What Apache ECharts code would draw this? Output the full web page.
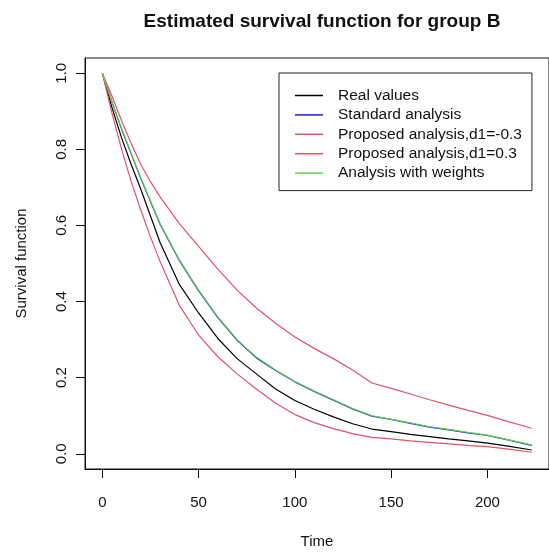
<!DOCTYPE html>
<html>
<head>
<meta charset="utf-8">
<script src="https://cdn.jsdelivr.net/npm/echarts@6/dist/echarts.min.js"></script>
<style>
html,body{margin:0;padding:0;background:#fff;}
#chart{width:549px;height:554px;}
</style>
</head>
<body>
<div id="chart"></div>
<script>
// ---- data ----
const times = [0, 5, 10, 15, 20, 25, 30, 40, 50, 60, 70, 80, 90, 100, 110, 120, 130, 140, 150, 160, 170, 180, 190, 200, 210, 223];
const realValues        = [1.0, 0.91, 0.83, 0.76, 0.695, 0.625, 0.555, 0.445, 0.37, 0.303, 0.25, 0.21, 0.17, 0.14, 0.117, 0.097, 0.079, 0.065, 0.058, 0.051, 0.045, 0.039, 0.034, 0.028, 0.021, 0.010];
const standardAnalysis  = [1.0, 0.925, 0.853, 0.788, 0.723, 0.663, 0.603, 0.508, 0.428, 0.358, 0.298, 0.252, 0.219, 0.189, 0.164, 0.141, 0.118, 0.099, 0.090, 0.080, 0.070, 0.063, 0.055, 0.048, 0.037, 0.022];
const proposedNeg03     = [1.0, 0.94, 0.875, 0.815, 0.76, 0.715, 0.675, 0.605, 0.545, 0.485, 0.43, 0.383, 0.343, 0.307, 0.277, 0.25, 0.22, 0.186, 0.172, 0.157, 0.142, 0.128, 0.114, 0.101, 0.086, 0.067];
const proposedPos03     = [1.0, 0.895, 0.80, 0.715, 0.64, 0.57, 0.505, 0.39, 0.312, 0.255, 0.21, 0.17, 0.133, 0.103, 0.082, 0.066, 0.053, 0.043, 0.039, 0.034, 0.030, 0.026, 0.022, 0.019, 0.013, 0.004];
const weightsAnalysis   = [1.0, 0.925, 0.855, 0.79, 0.725, 0.665, 0.605, 0.51, 0.43, 0.36, 0.30, 0.254, 0.22, 0.19, 0.165, 0.142, 0.119, 0.10, 0.091, 0.081, 0.071, 0.064, 0.056, 0.049, 0.038, 0.023];
const seriesNames = ['Real values', 'Standard analysis', 'Proposed analysis,d1=-0.3', 'Proposed analysis,d1=0.3', 'Analysis with weights'];
const xTicks = [0, 50, 100, 150, 200];
const yTicks = [0, 0.2, 0.4, 0.6, 0.8, 1.0];

const seriesValues = [realValues, standardAnalysis, proposedNeg03, proposedPos03, weightsAnalysis];
const colors = ['#000000', '#1f1fd0', '#DF536B', '#DF536B', '#61D04F'];
const FONT = 'Liberation Sans, Arial, Helvetica, sans-serif';

const chart = echarts.init(document.getElementById('chart'), null, {renderer: 'canvas'});
chart.setOption({
  backgroundColor: '#ffffff',
  animation: false,
  title: {
    text: 'Estimated survival function for group B',
    left: 322, top: 12, textAlign: 'center', padding: 0,
    textStyle: {fontFamily: FONT, fontSize: 19, fontWeight: 'bold', color: '#111'}
  },
  legend: {
    orient: 'vertical',
    left: 279, top: 73,
    padding: [14, 10, 9, 16],
    itemGap: 2.4,
    itemWidth: 28, itemHeight: 1.5,
    icon: 'rect',
    borderColor: '#222', borderWidth: 1,
    backgroundColor: '#fff',
    data: seriesNames,
    textStyle: {fontFamily: FONT, fontSize: 15.5, color: '#111', lineHeight: 17, padding: [0, 0, 0, 10]}
  },
  grid: {left: 85, top: 58, right: -10, bottom: 81, show: true, borderColor: '#111', borderWidth: 1, containLabel: false},
  xAxis: {
    type: 'value', min: -9, max: 232,
    name: 'Time', nameLocation: 'middle', nameGap: 65,
    nameTextStyle: {fontFamily: FONT, fontSize: 15, color: '#111'},
    axisLine: {show: true, onZero: false, lineStyle: {color: '#111'}},
    axisTick: {show: true, inside: false, length: 9, customValues: xTicks, lineStyle: {color: '#111'}},
    axisLabel: {customValues: xTicks, margin: 26, fontFamily: FONT, fontSize: 15, color: '#111'},
    splitLine: {show: false}
  },
  yAxis: {
    type: 'value', min: -0.04, max: 1.04,
    name: 'Survival function', nameLocation: 'middle', nameGap: 56,
    nameTextStyle: {fontFamily: FONT, fontSize: 15, color: '#111'},
    axisLine: {show: true, onZero: false, lineStyle: {color: '#111'}},
    axisTick: {show: true, inside: false, length: 9, customValues: yTicks, lineStyle: {color: '#111'}},
    axisLabel: {customValues: yTicks, rotate: 90, margin: 16, fontFamily: FONT, fontSize: 15, color: '#111',
      formatter: v => v.toFixed(1)},
    splitLine: {show: false}
  },
  series: seriesNames.map((name, k) => ({
    name: name,
    type: 'line',
    data: times.map((t, i) => [t, seriesValues[k][i]]),
    showSymbol: false,
    symbol: 'none',
    color: colors[k],
    lineStyle: {color: colors[k], width: 1.2},
    z: 2 + k
  }))
});
</script>
</body>
</html>
